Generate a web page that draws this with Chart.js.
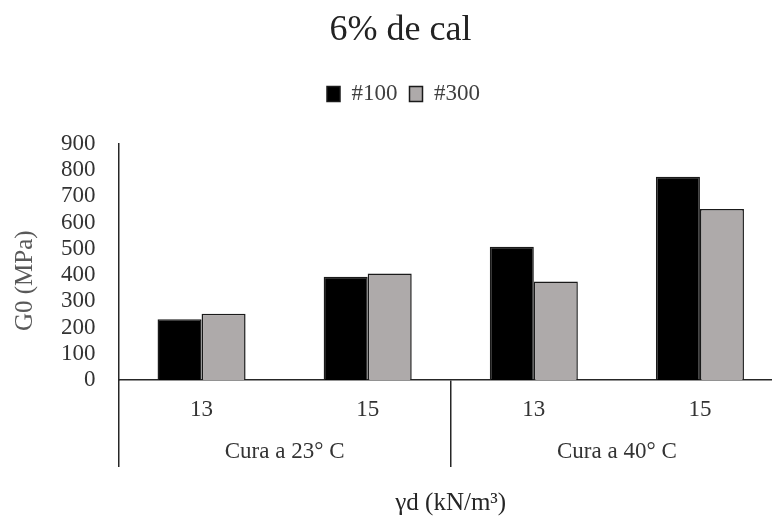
<!DOCTYPE html>
<html>
<head>
<meta charset="utf-8">
<script src="https://cdn.jsdelivr.net/npm/chart.js@4"></script>
<style>
  html, body { margin: 0; padding: 0; background: #fff; overflow: hidden; }
  #wrap { width: 772px; height: 516px; overflow: hidden; position: relative; }
  canvas { display: block; }
</style>
</head>
<body>
<div id="wrap"><canvas id="c" width="784" height="516"></canvas></div>
<script>
// Density (kN/m³) per curing condition
const categories = ['13', '15', '13', '15'];
const curingGroups = ['Cura a 23° C', 'Cura a 40° C'];
// G0 (MPa) per sieve fraction
const seriesNames = ['#100', '#300'];
const series100 = [232, 394, 508, 775];
const series300 = [253, 406, 376, 652];
// Value axis range
const yMin = 0;
const yMax = 900;
const yStep = 100;

const SERIF = "'Liberation Serif', 'Times New Roman', serif";
Chart.defaults.font.family = SERIF;
Chart.defaults.color = '#333';

// nudge the header blocks slightly to the right
const headerOffset = {
  id: 'headerOffset',
  afterLayout(chart) {
    if (chart.titleBlock) { chart.titleBlock.left += 5; chart.titleBlock.right += 5; }
    if (chart.legend) { chart.legend.left += 8; chart.legend.right += 8; }
  }
};

new Chart(document.getElementById('c'), {
  type: 'bar',
  plugins: [headerOffset],
  data: {
    labels: categories,
    datasets: [
      {
        label: seriesNames[0],
        data: series100,
        backgroundColor: '#000000',
        borderColor: '#1a1a1a',
        borderWidth: 1.5,
        categoryPercentage: 0.53,
        barPercentage: 1
      },
      {
        label: seriesNames[1],
        data: series300,
        backgroundColor: '#AEAAAA',
        borderColor: '#1a1a1a',
        borderWidth: 1.5,
        categoryPercentage: 0.53,
        barPercentage: 1
      }
    ]
  },
  options: {
    responsive: false,
    animation: false,
    devicePixelRatio: 1,
    layout: { padding: { left: 8, right: 1, top: 0, bottom: 0 } },
    plugins: {
      tooltip: { enabled: false },
      title: {
        display: true,
        text: '6% de cal',
        color: '#222',
        font: { size: 36, weight: 'normal', lineHeight: 1 },
        padding: { top: 13, bottom: 21.5 }
      },
      legend: {
        display: true,
        position: 'top',
        labels: {
          boxWidth: 13,
          boxHeight: 15,
          padding: 12,
          color: '#404040',
          font: { size: 23, lineHeight: 1 }
        }
      },
      // empty spacer between the legend and the plot
      subtitle: {
        display: true,
        text: '',
        weight: 500,
        font: { size: 1, lineHeight: 1 },
        padding: { top: 27.5, bottom: 0 }
      }
    },
    scales: {
      x: {
        type: 'category',
        position: 'bottom',
        offset: true,
        grid: {
          display: true,
          drawOnChartArea: false,
          drawTicks: true,
          tickLength: 87,
          offset: true,
          lineWidth: 1.5,
          color: (ctx) => (ctx.index === 1 || ctx.index === 3) ? 'rgba(0,0,0,0)' : '#262626'
        },
        border: { display: true, color: '#262626', width: 1.5 },
        ticks: {
          autoSkip: false,
          maxRotation: 0,
          padding: -69,
          color: '#333',
          font: { size: 23, lineHeight: 1 }
        },
        afterFit: (s) => { s.height = 41; }
      },
      x2: {
        type: 'category',
        labels: curingGroups,
        position: 'bottom',
        weight: 1,
        offset: true,
        grid: { display: false, drawTicks: false },
        border: { display: false },
        ticks: {
          autoSkip: false,
          maxRotation: 0,
          padding: 19.5,
          color: '#333',
          font: { size: 23, lineHeight: 1 }
        },
        title: {
          display: true,
          text: 'γd (kN/m³)',
          color: '#262626',
          font: { size: 25, lineHeight: 1 },
          padding: { top: 0, bottom: 0 }
        },
        afterFit: (s) => { s.height = 95; }
      },
      y: {
        min: yMin,
        max: yMax,
        grid: { display: false, drawTicks: false },
        border: { display: true, color: '#262626', width: 1.5 },
        ticks: {
          stepSize: yStep,
          autoSkip: false,
          padding: 23,
          color: '#333',
          font: { size: 23, lineHeight: 1 }
        },
        title: {
          display: true,
          text: 'G0 (MPa)      ',
          color: '#595959',
          font: { size: 25, lineHeight: 1 },
          padding: { top: 4.5, bottom: 0 }
        },
        afterFit: (s) => { s.width = 110.5; }
      }
    }
  }
});
</script>
</body>
</html>
